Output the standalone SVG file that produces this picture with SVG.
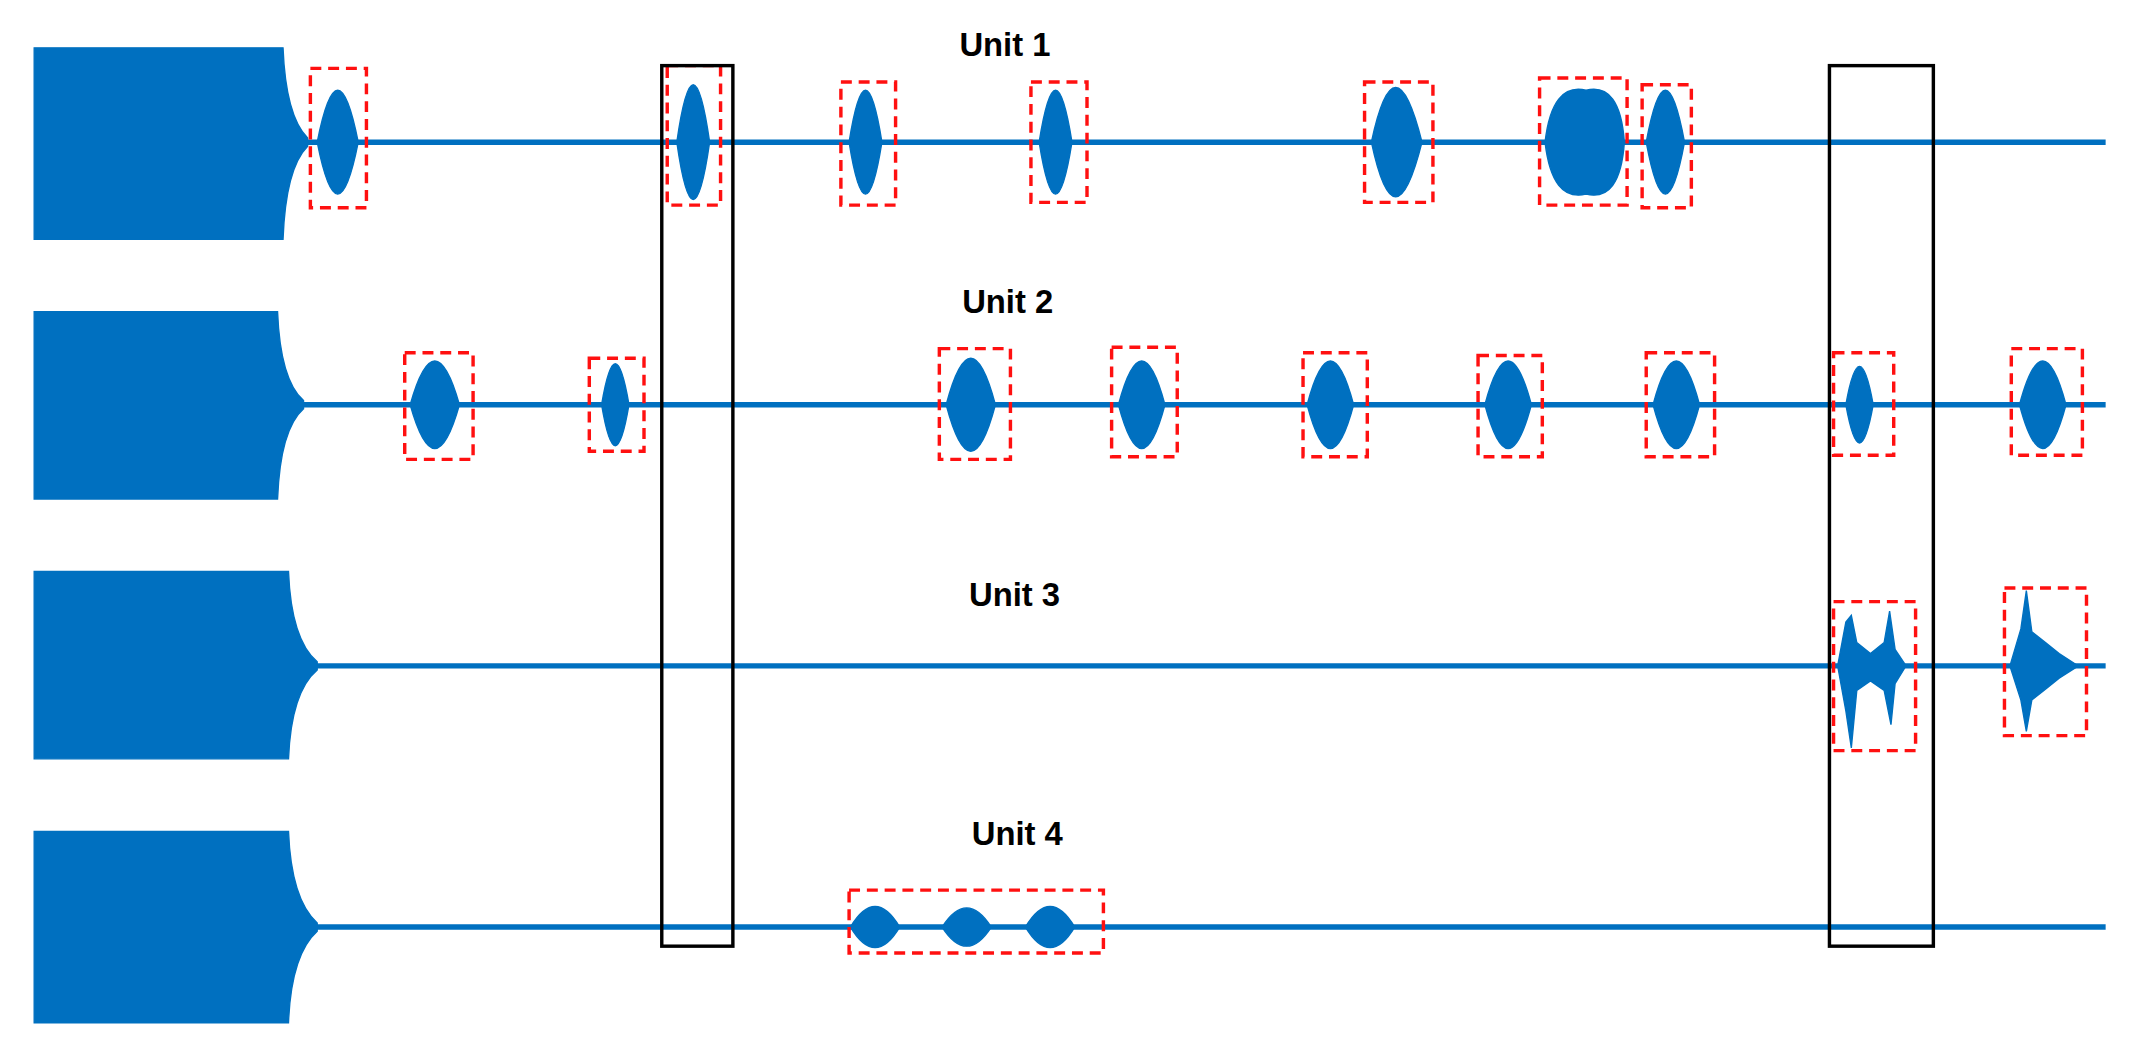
<svg xmlns="http://www.w3.org/2000/svg" width="2144" height="1052" viewBox="0 0 2144 1052">
<style>
.sig{fill:#0070C0;stroke:#0070C0;stroke-width:1}
.line{fill:none;stroke:#0070C0;stroke-width:4}
.rb{fill:none;stroke:#FF1010;stroke-width:2.5;stroke-dasharray:8,5}
.bk{fill:none;stroke:#000;stroke-width:2.5}
.lbl{font-family:"Liberation Sans",Arial,sans-serif;font-weight:bold;font-size:24px;fill:#000;text-anchor:middle}
</style>
<rect width="2144" height="1052" fill="#fff"/>
<g transform="scale(1.3673)">
<g id="row1">
<path class="line" d="M205,104 L1540,104"/>
<path class="sig" d="M25,35 H207 Q209,85 225,101 L225,107 Q209,123 207,175 H25 Z"/>
<path class="sig" d="M232,104 Q247,28 262,104 Q247,180 232,104Z"/>
<path class="sig" d="M495,104 Q507,20 519,104 Q507,188 495,104Z"/>
<path class="sig" d="M621,104 Q633,28 645,104 Q633,180 621,104Z"/>
<path class="sig" d="M760,104 Q772,28 784,104 Q772,180 760,104Z"/>
<path class="sig" d="M1003,104 Q1020,24 1040,104 Q1020,184 1003,104Z"/>
<path class="sig" d="M1130,104 Q1135,60 1160,66 Q1185,60 1188,104 Q1185,148 1160,142 Q1135,148 1130,104Z"/>
<path class="sig" d="M1204,104 Q1218,28 1232,104 Q1218,180 1204,104Z"/>
<text class="lbl" x="735" y="41">Unit 1</text>
</g>
<g id="row2">
<path class="line" d="M205,296 L1540,296"/>
<path class="sig" d="M25,228 H203 Q205,278 222,293 L222,299 Q205,314 203,365 H25 Z"/>
<path class="sig" d="M300,296 Q318,232 336,296 Q318,360 300,296Z"/>
<path class="sig" d="M440,296 Q450,236 460,296 Q450,356 440,296Z"/>
<path class="sig" d="M692,296 Q710,228 728,296 Q710,364 692,296Z"/>
<path class="sig" d="M818,296 Q835,232 852,296 Q835,360 818,296Z"/>
<path class="sig" d="M956,296 Q973,232 990,296 Q973,360 956,296Z"/>
<path class="sig" d="M1086,296 Q1103,232 1120,296 Q1103,360 1086,296Z"/>
<path class="sig" d="M1209,296 Q1226,232 1243,296 Q1226,360 1209,296Z"/>
<path class="sig" d="M1350,296 Q1360,240 1370,296 Q1360,352 1350,296Z"/>
<path class="sig" d="M1477,296 Q1494,232 1511,296 Q1494,360 1477,296Z"/>
<text class="lbl" x="737" y="229">Unit 2</text>
</g>
<g id="row3">
<path class="line" d="M210,487 L1540,487"/>
<path class="sig" d="M25,418 H211 Q213,468 232,484 L232,490 Q213,506 211,555 H25 Z"/>
<path class="sig" d="M1344,487 L1350,455 L1354,450 L1358,470 L1368,478 L1378,470 L1382,447 L1386,475 L1394,487 L1386,500 L1383,530 L1378,505 L1368,498 L1358,505 L1354,547 L1350,520 Z"/>
<path class="sig" d="M1470,487 L1478,460 L1482,432 L1486,462 L1496,470 L1506,478 L1520,487 L1506,496 L1496,504 L1486,512 L1482,535 L1478,512 Z"/>
<text class="lbl" x="742" y="443">Unit 3</text>
</g>
<g id="row4">
<path class="line" d="M210,678 L1540,678"/>
<path class="sig" d="M25,608 H211 Q213,658 232,675 L232,681 Q213,698 211,748 H25 Z"/>
<path class="sig" d="M622,678 Q640,648 658,678 Q640,708 622,678Z"/>
<path class="sig" d="M689,678 Q707,650 725,678 Q707,706 689,678Z"/>
<path class="sig" d="M750,678 Q768,648 786,678 Q768,708 750,678Z"/>
<text class="lbl" x="744" y="618">Unit 4</text>
</g>
<g id="boxes">
<rect class="rb" x="227" y="50" width="41" height="102"/>
<rect class="rb" x="488" y="48" width="39" height="102"/>
<rect class="rb" x="615" y="60" width="40" height="90"/>
<rect class="rb" x="754" y="60" width="41" height="88"/>
<rect class="rb" x="998" y="60" width="50" height="88"/>
<rect class="rb" x="1126" y="57" width="64" height="93"/>
<rect class="rb" x="1201" y="62" width="36" height="90"/>
<rect class="rb" x="296" y="258" width="50" height="78"/>
<rect class="rb" x="431" y="262" width="40" height="68"/>
<rect class="rb" x="687" y="255" width="52" height="81"/>
<rect class="rb" x="813" y="254" width="48" height="80"/>
<rect class="rb" x="953" y="258" width="47" height="76"/>
<rect class="rb" x="1081" y="260" width="47" height="74"/>
<rect class="rb" x="1204" y="258" width="50" height="76"/>
<rect class="rb" x="1341" y="258" width="44" height="75"/>
<rect class="rb" x="1471" y="255" width="52" height="78"/>
<rect class="rb" x="1341" y="440" width="60" height="109"/>
<rect class="rb" x="1466" y="430" width="60" height="108"/>
<rect class="rb" x="621" y="651" width="186" height="46"/>
<rect class="bk" x="484" y="48" width="52" height="644"/>
<rect class="bk" x="1338" y="48" width="76" height="644"/>
</g>
</g>
</svg>
